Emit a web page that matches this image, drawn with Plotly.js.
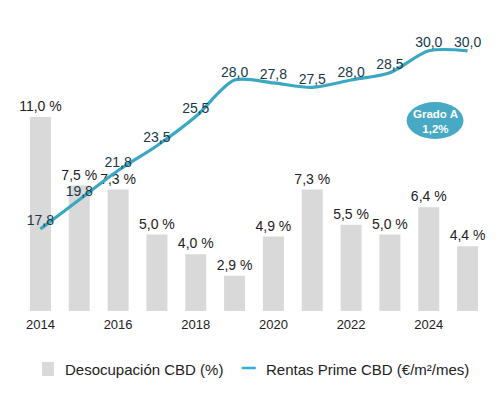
<!DOCTYPE html>
<html>
<head>
<meta charset="utf-8">
<script src="https://cdn.plot.ly/plotly-3.0.1.min.js"></script>
<style>html,body{margin:0;padding:0;background:#fff}#chart{width:500px;height:395px}</style>
</head>
<body>
<div id="chart"></div>
<script>
const years = [2014, 2015, 2016, 2017, 2018, 2019, 2020, 2021, 2022, 2023, 2024, 2025];
const desocupacion = [11.0, 7.5, 7.3, 5.0, 4.0, 2.9, 4.9, 7.3, 5.5, 5.0, 6.4, 4.4];
const rentas = [17.8, 19.8, 21.8, 23.5, 25.5, 28.0, 27.8, 27.5, 28.0, 28.5, 30.0, 30.0];
const tickYears = [2014, 2016, 2018, 2020, 2022, 2024];
const barName = 'Desocupación CBD (%)';
const lineName = 'Rentas Prime CBD (€/m²/mes)';
const badgeLines = ['Grado A', '1,2%'];

const font = 'Liberation Sans, Arial, Helvetica, sans-serif';
const barColor = '#d9d9d9';
const lineColor = '#3aa7c3';

const traces = [
  {
    type: 'bar', x: years, y: desocupacion, name: barName,
    marker: {color: barColor}, width: 0.54,
    texttemplate: '%{y:.1f} %', textposition: 'outside', cliponaxis: false,
    constraintext: 'none',
    textfont: {family: font, size: 14, color: '#222222'},
    hoverinfo: 'skip'
  },
  {
    type: 'scatter', mode: 'lines+text', x: years, y: rentas, name: lineName, yaxis: 'y2',
    line: {color: lineColor, width: 3.2, shape: 'spline', smoothing: 0.8},
    texttemplate: '%{y:.1f}', textposition: 'top center', cliponaxis: false,
    textfont: {family: font, size: 14, color: '#173a48'},
    hoverinfo: 'skip'
  }
];

// legend drawn in paper coordinates
const plotL = 21, plotW = 466.5, plotT = 20, plotH = 291;
const px = v => (v - plotL) / plotW;
const py = v => (plotT + plotH - v) / plotH;
const legY = 369;

const layout = {
  width: 500, height: 395,
  margin: {l: 21, r: 12.5, t: 20, b: 84},
  separators: ', ',
  paper_bgcolor: '#ffffff', plot_bgcolor: '#ffffff',
  font: {family: font, size: 13, color: '#222222'},
  showlegend: false,
  xaxis: {range: [2013.5, 2025.5], tickvals: tickYears, ticktext: tickYears.map(String),
          showgrid: false, zeroline: false, showline: false, ticks: '', ticklabelstandoff: 4,
          tickfont: {family: font, size: 13, color: '#222222'}},
  yaxis: {range: [1.1, 15.95], visible: false, showgrid: false, zeroline: false},
  yaxis2: {range: [12.18, 32.11], overlaying: 'y', visible: false, showgrid: false, zeroline: false},
  shapes: [
    {type: 'circle', xref: 'paper', yref: 'paper', x0: px(407), x1: px(464), y0: py(139), y1: py(102),
     fillcolor: '#48a9c5', line: {width: 0}},
    {type: 'rect', xref: 'paper', yref: 'paper', x0: px(42), x1: px(54), y0: py(legY + 7), y1: py(legY - 7),
     fillcolor: barColor, line: {width: 0}},
    {type: 'line', xref: 'paper', yref: 'paper', x0: px(242), x1: px(256), y0: py(legY - 1), y1: py(legY - 1),
     line: {color: '#2fb0cf', width: 2.5}}
  ],
  annotations: [
    {xref: 'paper', yref: 'paper', x: px(435.5), y: py(121), xanchor: 'center', yanchor: 'middle',
     text: '<b>' + badgeLines[0] + '</b><br><b>' + badgeLines[1] + '</b>', showarrow: false,
     font: {family: font, size: 11.5, color: '#ffffff'}, align: 'center'},
    {xref: 'paper', yref: 'paper', x: px(63), y: py(legY), xanchor: 'left', yanchor: 'middle',
     text: barName, showarrow: false, font: {family: font, size: 15, color: '#222222'}},
    {xref: 'paper', yref: 'paper', x: px(264), y: py(legY), xanchor: 'left', yanchor: 'middle',
     text: lineName, showarrow: false, font: {family: font, size: 15, color: '#222222'}}
  ]
};

Plotly.newPlot('chart', traces, layout, {displayModeBar: false, staticPlot: true});
</script>
</body>
</html>
